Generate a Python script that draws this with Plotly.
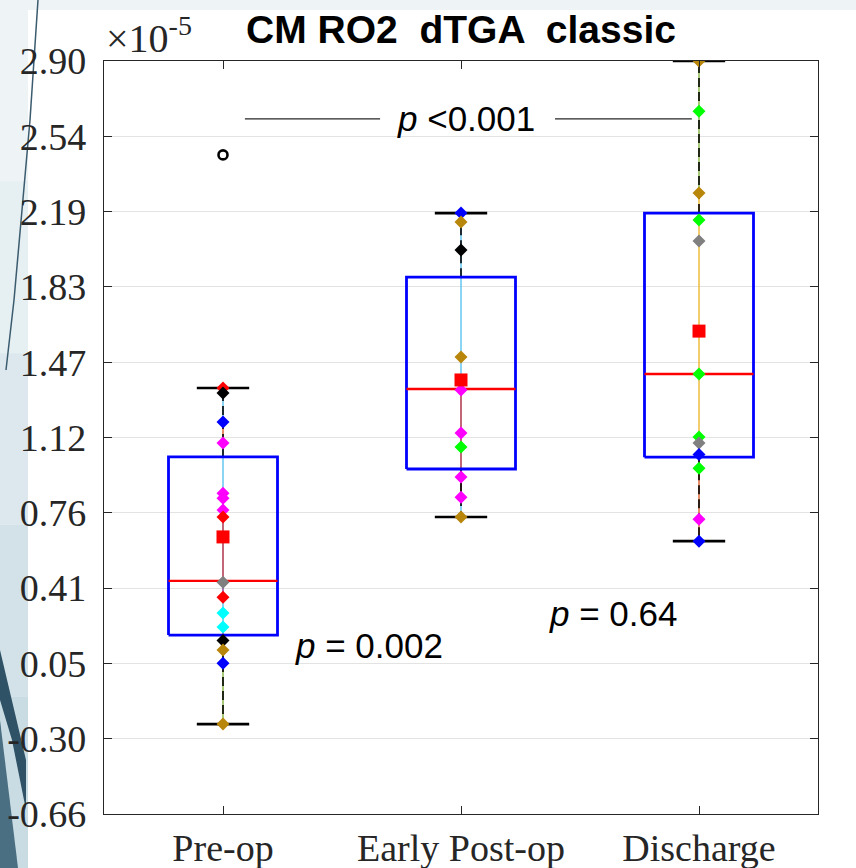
import plotly.graph_objects as go

# ---------------- data (values in units of 1e-5) ----------------
categories = ["Pre-op", "Early Post-op", "Discharge"]

lower_whisker = [-0.235, 0.744, 0.630]
q1_vals       = [0.186, 0.971, 1.027]
median_vals   = [0.442, 1.349, 1.420]
q3_vals       = [1.028, 1.878, 2.181]
upper_whisker = [1.354, 2.181, 2.900]
mean_vals     = [0.650, 1.392, 1.623]
outlier_x     = ["Pre-op"]
outlier_vals  = [2.456]

pre_vals = [1.354, 1.330, 1.193, 1.094, 0.857, 0.833, 0.777, 0.744, 0.436,
            0.365, 0.290, 0.224, 0.160, 0.115, 0.053, -0.235]
pre_colors = ["red", "black", "blue", "magenta", "magenta", "magenta", "magenta", "red",
              "gray", "red", "cyan", "cyan", "black", "darkgoldenrod", "blue", "darkgoldenrod"]
pre_seg = ["#4dbeee", "#4dbeee", "#d95319", "#4dbeee", "#4dbeee", "#4dbeee", "#4dbeee",
           "#a2142f", "#7e2f8e", "#4dbeee", "#4dbeee", "#7e2f8e", "#000000", "#77ac30", "#77ac30"]

early_vals = [2.181, 2.139, 2.006, 1.500, 1.344, 1.141, 1.075, 0.933, 0.838, 0.744]
early_colors = ["blue", "darkgoldenrod", "black", "darkgoldenrod", "magenta", "magenta",
                "lime", "magenta", "magenta", "darkgoldenrod"]
early_seg = ["#4dbeee", "#4dbeee", "#4dbeee", "#4dbeee", "#a2142f", "#a2142f", "#a2142f",
             "#a2142f", "#4dbeee"]

dis_vals = [2.900, 2.663, 2.276, 2.148, 2.049, 1.420, 1.122, 1.094, 1.040, 0.975, 0.734, 0.630]
dis_colors = ["darkgoldenrod", "lime", "darkgoldenrod", "lime", "gray", "lime", "lime",
              "gray", "blue", "lime", "magenta", "blue"]
dis_seg = ["#77ac30", "#77ac30", "#edb120", "#edb120", "#edb120", "#edb120", "#edb120",
           "#0072bd", "#d95319", "#d95319", "#d95319"]

group_vals = [pre_vals, early_vals, dis_vals]
group_colors = [pre_colors, early_colors, dis_colors]
group_seg = [pre_seg, early_seg, dis_seg]

y_min, y_max = -0.66, 2.90
y_ticktext = ["-0.66", "-0.30", "0.05", "0.41", "0.76", "1.12", "1.47", "1.83", "2.19", "2.54", "2.90"]

# ---------------- styles ----------------
BOX_HW = 0.229
CAP_HW = 0.11
SERIF = "Liberation Serif, Times New Roman, serif"
SANS = "Liberation Sans, Arial, sans-serif"

xpos = {c: i + 1 for i, c in enumerate(categories)}

fig = go.Figure()

# colored connector lines
for gi, c in enumerate(categories):
    vals = group_vals[gi]
    for si, col in enumerate(group_seg[gi]):
        fig.add_trace(go.Scatter(x=[xpos[c], xpos[c]], y=[vals[si], vals[si + 1]],
                                 mode="lines", line=dict(color=col, width=1.3),
                                 hoverinfo="skip", showlegend=False))

# whiskers (dashed)
wx, wy = [], []
for i, c in enumerate(categories):
    wx += [xpos[c], xpos[c], None, xpos[c], xpos[c], None]
    wy += [q3_vals[i], upper_whisker[i], None, q1_vals[i], lower_whisker[i], None]
fig.add_trace(go.Scatter(x=wx, y=wy, mode="lines",
                         line=dict(color="black", width=1.6, dash="9px,5px"),
                         hoverinfo="skip", showlegend=False))

# caps
cx, cy = [], []
for i, c in enumerate(categories):
    for v in (upper_whisker[i], lower_whisker[i]):
        cx += [xpos[c] - CAP_HW, xpos[c] + CAP_HW, None]
        cy += [v, v, None]
fig.add_trace(go.Scatter(x=cx, y=cy, mode="lines", line=dict(color="black", width=2.6),
                         hoverinfo="skip", showlegend=False))

# boxes
bx, by = [], []
for i, c in enumerate(categories):
    x0, x1 = xpos[c] - BOX_HW, xpos[c] + BOX_HW
    bx += [x0, x1, x1, x0, x0, None]
    by += [q1_vals[i], q1_vals[i], q3_vals[i], q3_vals[i], q1_vals[i], None]
fig.add_trace(go.Scatter(x=bx, y=by, mode="lines", line=dict(color="#0000ff", width=2.8),
                         hoverinfo="skip", showlegend=False))

# medians
mx, my = [], []
for i, c in enumerate(categories):
    mx += [xpos[c] - BOX_HW, xpos[c] + BOX_HW, None]
    my += [median_vals[i], median_vals[i], None]
fig.add_trace(go.Scatter(x=mx, y=my, mode="lines", line=dict(color="#ff0000", width=2.4),
                         hoverinfo="skip", showlegend=False))

# individual points
for gi, c in enumerate(categories):
    fig.add_trace(go.Scatter(x=[xpos[c]] * len(group_vals[gi]), y=group_vals[gi], mode="markers",
                             marker=dict(symbol="diamond", size=10, color=group_colors[gi],
                                         line=dict(width=0)),
                             showlegend=False))

# means
fig.add_trace(go.Scatter(x=[xpos[c] for c in categories], y=mean_vals, mode="markers",
                         marker=dict(symbol="square", size=13, color="#ff0000", line=dict(width=0)),
                         showlegend=False))

# outliers
fig.add_trace(go.Scatter(x=[xpos[c] for c in outlier_x], y=outlier_vals, mode="markers",
                         marker=dict(symbol="circle-open", size=9, color="black",
                                     line=dict(width=2.6, color="black")),
                         showlegend=False))

# ---------------- p-value annotations ----------------
fig.add_shape(type="line", xref="x", yref="y", x0=1.092, x1=1.66, y0=2.626, y1=2.626,
              line=dict(color="#262626", width=1.2))
fig.add_shape(type="line", xref="x", yref="y", x0=2.395, x1=2.97, y0=2.626, y1=2.626,
              line=dict(color="#262626", width=1.2))
fig.add_annotation(x=2.023, y=2.626, xref="x", yref="y", text="<i>p</i> <0.001",
                   showarrow=False, font=dict(family=SANS, size=35, color="black"))
fig.add_annotation(x=1.613, y=0.139, xref="x", yref="y", text="<i>p</i> = 0.002",
                   showarrow=False, font=dict(family=SANS, size=35, color="black"))
fig.add_annotation(x=2.639, y=0.286, xref="x", yref="y", text="<i>p</i> = 0.64",
                   showarrow=False, font=dict(family=SANS, size=35, color="black"))

# exponent label
fig.add_annotation(x=0.0, y=1.0, xref="paper", yref="paper", xanchor="left", yanchor="bottom",
                   xshift=0, yshift=-2, text="×10<sup>-5</sup>", showarrow=False,
                   font=dict(family=SERIF, size=40, color="#262626"))

# ---------------- background decoration (slide edge) ----------------
W, H = 856, 868
L, R, T, B = 104, 38, 61, 54
pw, ph = W - L - R, H - T - B
def px(x):
    return (x - L) / pw
def py(y):
    return (H - B - y) / ph

fig.add_shape(type="rect", xref="paper", yref="paper", layer="below",
              x0=px(28), x1=px(W), y0=py(H), y1=py(10),
              fillcolor="white", line=dict(width=0))
for k, col in enumerate(["#eef4f6", "#e6eff2", "#dce8ed", "#d2e2e8", "#c9dce3"]):
    fig.add_shape(type="rect", xref="paper", yref="paper", layer="below",
                  x0=px(0), x1=px(28), y0=py(10 + (k + 1) * 171.6), y1=py(10 + k * 171.6),
                  fillcolor=col, line=dict(width=0))
fig.add_shape(type="path", xref="paper", yref="paper", layer="below",
              path=f"M {px(38)},{py(0)} L {px(30)},{py(120)} L {px(14)},{py(300)} L {px(6)},{py(370)}",
              line=dict(color="#3b5b6e", width=1.5))
fig.add_shape(type="path", xref="paper", yref="paper", layer="below",
              path=(f"M {px(0)},{py(650)} L {px(26)},{py(760)} L {px(26)},{py(810)} "
                    f"L {px(12)},{py(740)} L {px(0)},{py(700)} Z"),
              fillcolor="#2f5266", line=dict(width=0))
fig.add_shape(type="path", xref="paper", yref="paper", layer="below",
              path=f"M {px(0)},{py(720)} L {px(18)},{py(868)} L {px(0)},{py(868)} Z",
              fillcolor="#4b6f82", line=dict(width=0))

# ---------------- layout ----------------
fig.update_layout(
    width=W, height=H,
    margin=dict(l=L, r=R, t=T, b=B, autoexpand=False),
    paper_bgcolor="#eef3f6",
    plot_bgcolor="white",
    showlegend=False,
    title=dict(text="<b>CM RO2  dTGA  classic</b>", x=0.5, xref="paper", xanchor="center",
               y=1 - 29 / H, yref="container", yanchor="middle",
               font=dict(family=SANS, size=39, color="black")),
    xaxis=dict(range=[0.5, 3.5], tickvals=[xpos[c] for c in categories], ticktext=categories,
               automargin=False,
               showgrid=False, zeroline=False, showline=True, linecolor="#262626", linewidth=1.2,
               mirror="allticks", ticks="inside", ticklen=8, tickcolor="#262626",
               tickfont=dict(family=SERIF, size=38, color="#262626")),
    yaxis=dict(range=[y_min, y_max], tickvals=[y_min + i * (y_max - y_min) / 10 for i in range(11)],
               ticktext=y_ticktext, showgrid=True, gridcolor="#e3e3e3", gridwidth=1,
               automargin=False,
               zeroline=False, showline=True, linecolor="#262626", linewidth=1.2,
               mirror="allticks", ticks="inside", ticklen=8, tickcolor="#262626",
               tickfont=dict(family=SERIF, size=38, color="#262626"), ticklabelstandoff=9),
)

fig.write_html("out.html", config={"displayModeBar": False},
               post_script="document.body.style.margin='0';document.body.style.overflow='hidden';")
